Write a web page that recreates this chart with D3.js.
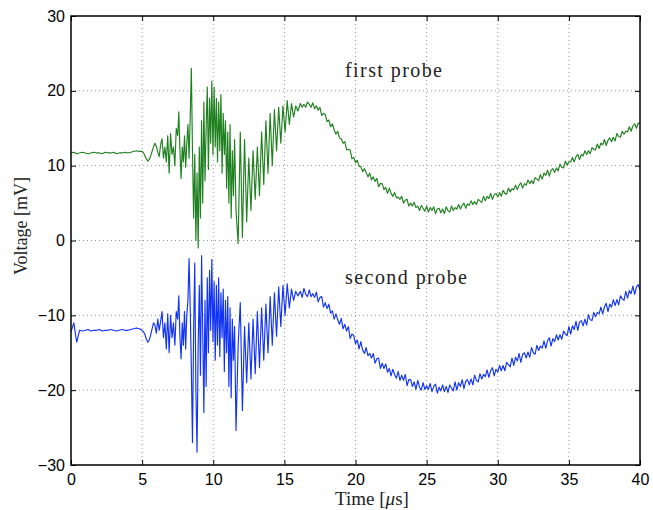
<!DOCTYPE html>
<html>
<head>
<meta charset="utf-8">
<script src="https://cdn.jsdelivr.net/npm/d3@7"></script>
<style>
  html, body { margin: 0; padding: 0; background: #fff; }
  svg { display: block; }
</style>
</head>
<body>
<svg id="chart" width="653" height="510"></svg>
<script>
// ---------------- data ----------------
const xTicks = [0, 5, 10, 15, 20, 25, 30, 35, 40];
const yTicks = [-30, -20, -10, 0, 10, 20, 30];
const yLabel = "Voltage [mV]";
const seriesNames = ["first probe", "second probe"];

// time spans (µs) of the recorded stretches; samples are evenly spaced inside each span
const quietSpan = [0, 4.8];
const onsetSpan = [5.0, 7.4];
const peakSpan = [7.5, 11.5];
const decaySpan = [11.6, 15.95];
const tailSpan = [16.125, 40];

// first probe (mV)
const firstQuiet = [11.7, 11.8, 11.6, 11.7, 11.8, 11.7, 11.6, 11.7, 11.8, 11.7, 11.7, 11.6, 11.8,
  11.7, 11.7, 11.8, 11.6, 11.7, 11.7, 11.8, 11.7, 11.8, 11.9, 12.0, 11.9];
const firstOnset = [11.9, 11.7, 11.3, 10.9, 10.6, 10.8, 11.3, 11.9, 12.5, 13.0,
  12.6, 11.8, 11.2, 12.8, 13.6, 11.0, 12.5, 10.5, 14.0, 9.0,
  14.3, 11.5, 12.5, 10.0, 15.0];
const firstPeak = [14.0, 17.2, 12.0, 8.3, 12.5, 10.5, 14.0, 9.8, 13.0, 15.5,
  11.0, 16.5, 23.0, 12.0, 3.0, 11.5, 0.0, 9.0, -1.0, 12.5,
  3.0, 16.0, 5.0, 18.5, 8.0, 15.0, 20.5, 9.5, 19.0, 13.0,
  21.3, 11.5, 20.5, 12.5, 19.0, 10.5, 18.5, 12.0, 19.5, 9.0,
  17.0, 11.5, 16.0, 7.0, 14.5, 5.0, 15.5, 3.0, 12.0, 6.0, 13.5];
const firstDecay = [4.0, -0.4, 14.5, 0.4, 13.5, 2.5, 11.0, 4.0, 12.0, 5.5,
  12.5, 6.0, 14.5, 7.5, 16.0, 9.0, 17.0, 10.0, 17.5, 12.0,
  17.8, 13.0, 18.0, 14.5, 18.7, 15.5, 18.3, 16.5, 18.0, 17.3];
const firstTail = [
  18.3, 17.8, 18.2, 17.8, 18.5, 18.2, 17.8, 18.4,
  17.6, 18.0, 17.4, 17.8, 16.7, 17.0, 16.8, 15.9,
  16.1, 15.2, 15.6, 14.8, 14.2, 14.6, 13.7, 13.6,
  13.0, 13.2, 12.1, 12.2, 12.1, 10.9, 11.1, 10.4,
  10.7, 9.9, 9.9, 9.2, 9.6, 9.1, 8.5, 9.0,
  8.1, 8.5, 7.9, 8.3, 7.2, 7.6, 7.6, 6.8,
  7.1, 6.3, 7.0, 6.3, 5.9, 6.4, 5.7, 5.8,
  5.5, 5.9, 5.0, 5.4, 5.5, 4.6, 5.0, 4.6,
  5.1, 4.4, 4.6, 4.0, 4.7, 4.3, 3.9, 4.6,
  3.8, 4.4, 4.0, 4.5, 3.6, 4.2, 4.3, 3.7,
  4.2, 3.6, 4.5, 4.0, 3.8, 4.6, 4.0, 4.4,
  4.2, 4.8, 4.2, 4.7, 5.0, 4.3, 4.9, 4.7,
  5.3, 4.8, 5.2, 4.8, 5.5, 5.3, 5.1, 5.9,
  5.3, 5.9, 5.6, 6.3, 5.5, 6.1, 6.3, 5.8,
  6.4, 5.9, 6.7, 6.3, 6.2, 7.0, 6.5, 6.9,
  6.8, 7.4, 6.8, 7.4, 7.7, 7.0, 7.6, 7.4,
  8.1, 7.6, 8.0, 7.6, 8.4, 8.2, 8.0, 8.8,
  8.2, 9.0, 8.7, 9.4, 8.6, 9.4, 9.6, 9.1,
  9.7, 9.3, 10.2, 9.8, 9.7, 10.6, 10.1, 10.5,
  10.5, 11.1, 10.5, 11.2, 11.5, 10.8, 11.5, 11.3,
  12.0, 11.5, 12.0, 11.6, 12.4, 12.2, 12.1, 12.9,
  12.3, 13.0, 12.8, 13.5, 12.7, 13.4, 13.7, 13.2,
  13.8, 13.3, 14.3, 13.9, 13.8, 14.6, 14.2, 14.6,
  14.5, 15.2, 14.6, 15.3, 15.6, 15.0, 15.7, 15.6];

// second probe (mV)
const secondQuiet = [-12.2, -11.0, -13.6, -12.0, -12.1, -12.0, -11.9, -12.1, -12.0, -12.0, -11.9, -12.1,
  -12.0, -12.0, -11.9, -12.0, -12.1, -12.0, -11.9, -12.0, -12.0, -11.9, -11.8, -11.7, -11.8];
const secondOnset = [-12.0, -12.2, -12.6, -13.2, -13.6, -13.3, -12.6, -11.8, -11.0, -11.3,
  -12.4, -10.5, -12.0, -10.8, -9.5, -13.0, -11.0, -14.5, -9.8, -15.0,
  -10.0, -13.0, -11.0, -14.0, -9.5];
const secondPeak = [-10.5, -7.4, -13.0, -15.8, -11.0, -14.0, -9.5, -14.5, -10.0, -8.0,
  -2.4, -9.0, -17.0, -27.0, -12.0, -3.0, -20.0, -28.3, -14.0, -6.0,
  -18.0, -2.0, -12.0, -23.0, -8.0, -19.5, -5.0, -15.0, -4.0, -12.0,
  -2.5, -13.5, -5.5, -16.0, -6.0, -14.0, -5.0, -15.5, -7.0, -13.0,
  -6.5, -17.5, -8.0, -15.0, -7.5, -19.5, -9.0, -21.0, -10.5, -16.0, -11.5];
const secondDecay = [-25.4, -14.0, -8.3, -22.7, -11.5, -19.0, -11.0, -18.5, -10.5, -17.8,
  -9.5, -17.0, -9.0, -16.0, -8.5, -15.0, -7.5, -14.0, -7.0, -12.8,
  -6.2, -11.5, -6.0, -10.0, -5.8, -9.0, -6.5, -8.0, -6.8, -7.4];
const secondTail = [
  -6.8, -7.6, -6.4, -7.2, -7.5, -6.6, -7.5, -7.1,
  -7.6, -6.9, -8.2, -7.6, -7.5, -8.9, -8.3, -9.1,
  -8.5, -9.7, -9.4, -10.5, -9.8, -10.6, -11.2, -10.4,
  -11.8, -11.2, -12.1, -11.5, -13.1, -12.5, -12.7, -13.8,
  -13.3, -14.5, -13.5, -14.6, -15.1, -14.3, -15.4, -15.1,
  -15.7, -15.1, -16.4, -15.8, -15.7, -17.1, -16.4, -17.1,
  -16.5, -17.6, -17.1, -18.1, -17.2, -17.9, -18.4, -17.5,
  -18.7, -18.0, -18.7, -17.9, -19.4, -18.6, -18.6, -19.5,
  -18.9, -19.9, -18.7, -19.6, -20.0, -19.0, -19.9, -19.4,
  -19.9, -19.1, -20.2, -19.5, -19.2, -20.4, -19.6, -20.1,
  -19.3, -20.2, -19.5, -20.3, -19.3, -19.7, -20.1, -18.9,
  -20.0, -19.0, -19.5, -18.6, -19.8, -18.8, -18.6, -19.3,
  -18.5, -19.3, -18.0, -18.7, -18.9, -17.8, -18.5, -17.9,
  -18.2, -17.3, -18.3, -17.4, -17.0, -18.1, -17.2, -17.6,
  -16.7, -17.4, -16.7, -17.4, -16.3, -16.6, -16.9, -15.7,
  -16.7, -15.6, -16.1, -15.1, -16.3, -15.2, -15.0, -15.7,
  -14.9, -15.6, -14.3, -15.0, -15.2, -14.0, -14.7, -14.1,
  -14.4, -13.4, -14.4, -13.4, -13.0, -14.1, -13.1, -13.5,
  -12.6, -13.3, -12.6, -13.2, -12.1, -12.5, -12.7, -11.5,
  -12.5, -11.4, -11.9, -10.8, -12.0, -10.9, -10.7, -11.4,
  -10.5, -11.3, -9.9, -10.6, -10.7, -9.6, -10.2, -9.6,
  -9.8, -8.9, -9.8, -8.9, -8.4, -9.5, -8.5, -8.9,
  -7.9, -8.7, -7.9, -8.6, -7.4, -7.8, -8.0, -6.8,
  -7.7, -6.7, -7.1, -6.1, -7.2, -6.2, -5.9, -6.6];

// ---------------- layout ----------------
const W = 653, H = 510;
const margin = { top: 16, right: 13, bottom: 45, left: 71 };
const iw = W - margin.left - margin.right;
const ih = H - margin.top - margin.bottom;

const svg = d3.select("#chart");
const g = svg.append("g").attr("transform", `translate(${margin.left},${margin.top})`);

const x = d3.scaleLinear().domain([0, 40]).range([0, iw]);
const y = d3.scaleLinear().domain([-30, 30]).range([ih, 0]);

// grid
g.append("g").selectAll("line").data(xTicks.slice(1, -1)).join("line")
  .attr("x1", d => x(d)).attr("x2", d => x(d)).attr("y1", 0).attr("y2", ih)
  .attr("stroke", "#9a9a9a").attr("stroke-width", 1).attr("stroke-dasharray", "1,3");
g.append("g").selectAll("line").data(yTicks.slice(1, -1)).join("line")
  .attr("y1", d => y(d)).attr("y2", d => y(d)).attr("x1", 0).attr("x2", iw)
  .attr("stroke", "#9a9a9a").attr("stroke-width", 1).attr("stroke-dasharray", "1,3");

// series
function place(values, span) {
  return values.map((v, i) => ({ t: span[0] + (span[1] - span[0]) * i / (values.length - 1), v }));
}
function assemble(q, o, p, d, t) {
  return [...place(q, quietSpan), ...place(o, onsetSpan), ...place(p, peakSpan),
          ...place(d, decaySpan), ...place(t, tailSpan)];
}
const firstData = assemble(firstQuiet, firstOnset, firstPeak, firstDecay, firstTail);
const secondData = assemble(secondQuiet, secondOnset, secondPeak, secondDecay, secondTail);

svg.append("defs").append("clipPath").attr("id", "clip")
  .append("rect").attr("width", iw).attr("height", ih);

const line = d3.line().x(d => x(d.t)).y(d => y(d.v));
const lines = g.append("g").attr("clip-path", "url(#clip)");
lines.append("path").datum(firstData).attr("d", line)
  .attr("fill", "none").attr("stroke", "#1f801f").attr("stroke-width", 1.15).attr("stroke-linejoin", "round");
lines.append("path").datum(secondData).attr("d", line)
  .attr("fill", "none").attr("stroke", "#1133f5").attr("stroke-width", 1.15).attr("stroke-linejoin", "round");

// axes (inward ticks on all sides)
const tickFont = "'Liberation Sans', Arial, sans-serif";
const bottom = g.append("g").attr("transform", `translate(0,${ih})`)
  .call(d3.axisBottom(x).tickValues(xTicks).tickSizeInner(-5).tickSizeOuter(0).tickPadding(9));
const left = g.append("g")
  .call(d3.axisLeft(y).tickValues(yTicks).tickSizeInner(-5).tickSizeOuter(0).tickPadding(6));
g.append("g").call(d3.axisTop(x).tickValues(xTicks).tickSizeInner(-5).tickSizeOuter(0).tickFormat(""));
g.append("g").attr("transform", `translate(${iw},0)`)
  .call(d3.axisRight(y).tickValues(yTicks).tickSizeInner(-5).tickSizeOuter(0).tickFormat(""));
g.selectAll(".domain").remove();
g.selectAll(".tick line").attr("stroke", "#000").attr("stroke-width", 1);
[bottom, left].forEach(a => a.selectAll("text")
  .attr("font-family", tickFont).attr("font-size", 16).attr("fill", "#000"));

// box
g.append("rect").attr("width", iw).attr("height", ih)
  .attr("fill", "none").attr("stroke", "#000").attr("stroke-width", 1.5);

// labels
const serif = "'Liberation Serif', 'DejaVu Serif', serif";
const xl = svg.append("text").attr("x", 372).attr("y", 505).attr("text-anchor", "middle")
  .attr("font-family", serif).attr("font-size", 19).attr("fill", "#222");
xl.append("tspan").text("Time [");
xl.append("tspan").attr("font-style", "italic").text("μ");
xl.append("tspan").text("s]");

svg.append("text").attr("transform", "translate(27,226) rotate(-90)").attr("text-anchor", "middle")
  .attr("font-family", serif).attr("font-size", 18).attr("fill", "#222").text(yLabel);

svg.append("text").attr("x", 345).attr("y", 77).attr("font-family", serif).attr("font-size", 20)
  .attr("fill", "#222").attr("textLength", 97).attr("lengthAdjust", "spacing").text(seriesNames[0]);
svg.append("text").attr("x", 345).attr("y", 284).attr("font-family", serif).attr("font-size", 20)
  .attr("fill", "#222").attr("textLength", 122).attr("lengthAdjust", "spacing").text(seriesNames[1]);
</script>
</body>
</html>
